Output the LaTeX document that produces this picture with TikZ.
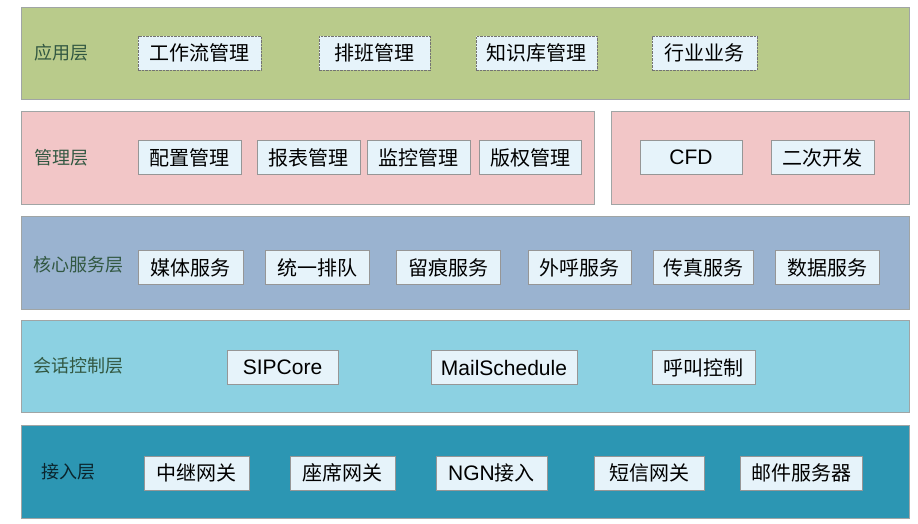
\documentclass[tikz,border=0pt]{standalone}
\usepackage{fontspec}
\setmainfont{Liberation Sans}
\newfontfamily\cjk{Noto Sans CJK SC}
\usepackage{xcolor}
\usepackage{tikz}
\usetikzlibrary{positioning}

\definecolor{appgreen}{RGB}{185,203,139}
\definecolor{mgmtpink}{RGB}{242,198,199}
\definecolor{coreblue}{RGB}{154,179,208}
\definecolor{sesscyan}{RGB}{140,209,226}
\definecolor{accteal}{RGB}{44,150,179}
\definecolor{boxfill}{RGB}{230,243,250}
\definecolor{boxline}{RGB}{150,150,150}
\definecolor{layerline}{RGB}{160,165,165}
\definecolor{labeltext}{RGB}{50,88,66}

\tikzset{
  layer/.style={draw=layerline, line width=0.8pt, inner sep=0pt},
  layerlabel/.style={anchor=west, text=labeltext, inner sep=0pt,
    font=\cjk\fontsize{18}{21}\selectfont},
  box/.style={draw=boxline, fill=boxfill, line width=0.8pt, inner sep=0pt,
    minimum height=34pt, text=black, font=\cjk\fontsize{20}{23}\selectfont},
  dashbox/.style={box, draw=black!55, dash pattern=on 2.5pt off 1pt},
  latinbox/.style={box, font=\fontsize{21}{24}\selectfont},
}

\begin{document}
\begin{tikzpicture}[x=1pt, y=-1pt]
            \useasboundingbox (0,0) rectangle (918,523);
            % draw layers
            \node[layer, fill=appgreen, minimum width=888pt, minimum height=92pt] (applayer) at (465,53) {};
            \node[layer, fill=mgmtpink, minimum width=573pt, minimum height=93pt] (mgmtlayer) at (307.5,157.5) {};
            \node[layer, fill=mgmtpink, minimum width=298pt, minimum height=93pt] (devlayer) at (760,157.5) {};
            \node[layer, fill=coreblue, minimum width=888pt, minimum height=93pt] (corelayer) at (465,262.5) {};
            \node[layer, fill=sesscyan, minimum width=888pt, minimum height=92pt] (sesslayer) at (465,366) {};
            \node[layer, fill=accteal, minimum width=888pt, minimum height=93pt] (acclayer) at (465,471.5) {};
            % layer names
            \node[layerlabel] (applabel) at (34,53) {应用层};
            \node[layerlabel] (mgmtlabel) at (34,158) {管理层};
            \node[layerlabel] (corelabel) at (33,265) {核心服务层};
            \node[layerlabel] (sesslabel) at (33,366) {会话控制层};
            \node[layerlabel, text=black!75!accteal] (acclabel) at (41,472) {接入层};
            % application layer
            \node[dashbox, minimum width=123pt] (workflow) at (199.5,53) {工作流管理};
            \node[dashbox, minimum width=111pt] (shift) at (374.5,53) {排班管理};
            \node[dashbox, minimum width=121pt] (knowledge) at (536.5,53) {知识库管理};
            \node[dashbox, minimum width=105pt] (industry) at (704.5,53) {行业业务};
            % management layer
            \node[box, minimum width=103pt] (config) at (189.5,157.5) {配置管理};
            \node[box, minimum width=103pt] (report) at (308.5,157.5) {报表管理};
            \node[box, minimum width=103pt] (monitor) at (418.5,157.5) {监控管理};
            \node[box, minimum width=102pt] (license) at (530,157.5) {版权管理};
            \node[latinbox, minimum width=102pt] (cfd) at (691,157.5) {CFD};
            \node[box, minimum width=103pt] (sdk) at (822.5,157.5) {二次开发};
            % core service layer
            \node[box, minimum width=105pt] (media) at (190.5,267.5) {媒体服务};
            \node[box, minimum width=104pt] (queue) at (317,267.5) {统一排队};
            \node[box, minimum width=104pt] (record) at (448,267.5) {留痕服务};
            \node[box, minimum width=103pt] (outcall) at (579.5,267.5) {外呼服务};
            \node[box, minimum width=100pt] (fax) at (703,267.5) {传真服务};
            \node[box, minimum width=104pt] (data) at (827,267.5) {数据服务};
            % session control layer
            \node[latinbox, minimum width=111pt] (sipcore) at (282.5,367.5) {SIPCore};
            \node[latinbox, minimum width=146pt] (mailsched) at (504,367.5) {MailSchedule};
            \node[box, minimum width=103pt] (callctl) at (703.5,367.5) {呼叫控制};
            % access layer
            \node[box, minimum width=105pt] (trunk) at (196.5,473) {中继网关};
            \node[box, minimum width=105pt] (agent) at (342.5,473) {座席网关};
            \node[box, minimum width=111pt] (ngn) at (491.5,473) {{\rmfamily\fontsize{21}{24}\selectfont NGN}接入};
            \node[box, minimum width=110pt] (sms) at (649,473) {短信网关};
            \node[box, minimum width=122pt] (mail) at (801,473) {邮件服务器};
\end{tikzpicture}
\end{document}
